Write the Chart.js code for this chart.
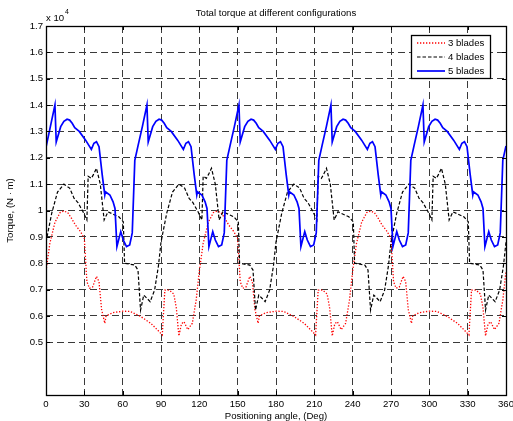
<!DOCTYPE html>
<html>
<head>
<meta charset="utf-8">
<title>Total torque at different configurations</title>
<script src="https://cdn.jsdelivr.net/npm/chart.js@4.4.1/dist/chart.umd.min.js"></script>
<style>
  html, body { margin: 0; padding: 0; background: #fff; }
  canvas { display: block; }
</style>
</head>
<body>
<canvas id="torqueChart" width="513" height="421"></canvas>
<script>
// Torque values are in units of 10^4 N.m
const blade3Angle = [
  0, 3, 7, 11, 14, 17, 20, 23, 27, 30, 32, 34, 36.5, 39.5, 41.5, 43.5, 46, 47, 52, 60, 66, 74, 82, 87, 91, 93, 96.5, 100, 102, 104, 106, 108, 111, 114.5, 117.5,
  120, 123, 127, 131, 134, 137, 140, 143, 147, 150, 152, 154, 156.5, 159.5, 161.5, 163.5, 166, 167, 172, 180, 186, 194, 202, 207, 211, 213, 216.5, 220, 222, 224, 226, 228, 231, 234.5, 237.5,
  240, 243, 247, 251, 254, 257, 260, 263, 267, 270, 272, 274, 276.5, 279.5, 281.5, 283.5, 286, 287, 292, 300, 306, 314, 322, 327, 331, 333, 336.5, 340, 342, 344, 346, 348, 351, 354.5, 357.5,
  360
];
const blade3Torque = [
  0.77, 0.875, 0.955, 0.992, 0.998, 0.992, 0.97, 0.945, 0.92, 0.894, 0.73, 0.705, 0.71, 0.75, 0.73, 0.625, 0.572, 0.60, 0.612, 0.618, 0.617, 0.598, 0.572, 0.548, 0.528, 0.698, 0.698, 0.683, 0.63, 0.524, 0.57, 0.578, 0.548, 0.572, 0.66,
  0.77, 0.875, 0.955, 0.992, 0.998, 0.992, 0.97, 0.945, 0.92, 0.894, 0.73, 0.705, 0.71, 0.75, 0.73, 0.625, 0.572, 0.60, 0.612, 0.618, 0.617, 0.598, 0.572, 0.548, 0.528, 0.698, 0.698, 0.683, 0.63, 0.524, 0.57, 0.578, 0.548, 0.572, 0.66,
  0.77, 0.875, 0.955, 0.992, 0.998, 0.992, 0.97, 0.945, 0.92, 0.894, 0.73, 0.705, 0.71, 0.75, 0.73, 0.625, 0.572, 0.60, 0.612, 0.618, 0.617, 0.598, 0.572, 0.548, 0.528, 0.698, 0.698, 0.683, 0.63, 0.524, 0.57, 0.578, 0.548, 0.572, 0.66,
  0.77
];

const blade4Angle = [
  0, 4.5, 9, 14, 18.5, 22, 25, 29, 32, 33, 35.5, 37, 39.5, 42.5, 45.5, 48.5, 53, 57, 60.5, 61.5, 69.5, 72, 74, 76.5, 79, 81.5, 85, 88,
  90, 94.5, 99, 104, 108.5, 112, 115, 119, 122, 123, 125.5, 127, 129.5, 132.5, 135.5, 138.5, 143, 147, 150.5, 151.5, 159.5, 162, 164, 166.5, 169, 171.5, 175, 178,
  180, 184.5, 189, 194, 198.5, 202, 205, 209, 212, 213, 215.5, 217, 219.5, 222.5, 225.5, 228.5, 233, 237, 240.5, 241.5, 249.5, 252, 254, 256.5, 259, 261.5, 265, 268,
  270, 274.5, 279, 284, 288.5, 292, 295, 299, 302, 303, 305.5, 307, 309.5, 312.5, 315.5, 318.5, 323, 327, 330.5, 331.5, 339.5, 342, 344, 346.5, 349, 351.5, 355, 358,
  360
];
const blade4Torque = [
  0.88, 0.99, 1.07, 1.10, 1.085, 1.046, 1.03, 0.995, 0.964, 1.13, 1.122, 1.135, 1.16, 1.10, 0.964, 0.995, 0.985, 0.976, 0.957, 0.80, 0.793, 0.774, 0.622, 0.679, 0.667, 0.654, 0.698, 0.79,
  0.88, 0.99, 1.07, 1.10, 1.085, 1.046, 1.03, 0.995, 0.964, 1.13, 1.122, 1.135, 1.16, 1.10, 0.964, 0.995, 0.985, 0.976, 0.957, 0.80, 0.793, 0.774, 0.622, 0.679, 0.667, 0.654, 0.698, 0.79,
  0.88, 0.99, 1.07, 1.10, 1.085, 1.046, 1.03, 0.995, 0.964, 1.13, 1.122, 1.135, 1.16, 1.10, 0.964, 0.995, 0.985, 0.976, 0.957, 0.80, 0.793, 0.774, 0.622, 0.679, 0.667, 0.654, 0.698, 0.79,
  0.88, 0.99, 1.07, 1.10, 1.085, 1.046, 1.03, 0.995, 0.964, 1.13, 1.122, 1.135, 1.16, 1.10, 0.964, 0.995, 0.985, 0.976, 0.957, 0.80, 0.793, 0.774, 0.622, 0.679, 0.667, 0.654, 0.698, 0.79,
  0.88
];

const blade5Angle = [
  0, 3.5, 7, 8, 11.5, 14, 16.5, 18.5, 20.5, 22.5, 26, 31, 35.5, 37.5, 39.5, 41.5, 44, 46, 46.5, 50, 52.5, 54, 55.5, 58.5, 60.5, 63, 65.5, 67.5, 69.5,
  72, 75.5, 79, 80, 83.5, 86, 88.5, 90.5, 92.5, 94.5, 98, 103, 107.5, 109.5, 111.5, 113.5, 116, 118, 118.5, 122, 124.5, 126, 127.5, 130.5, 132.5, 135, 137.5, 139.5, 141.5,
  144, 147.5, 151, 152, 155.5, 158, 160.5, 162.5, 164.5, 166.5, 170, 175, 179.5, 181.5, 183.5, 185.5, 188, 190, 190.5, 194, 196.5, 198, 199.5, 202.5, 204.5, 207, 209.5, 211.5, 213.5,
  216, 219.5, 223, 224, 227.5, 230, 232.5, 234.5, 236.5, 238.5, 242, 247, 251.5, 253.5, 255.5, 257.5, 260, 262, 262.5, 266, 268.5, 270, 271.5, 274.5, 276.5, 279, 281.5, 283.5, 285.5,
  288, 291.5, 295, 296, 299.5, 302, 304.5, 306.5, 308.5, 310.5, 314, 319, 323.5, 325.5, 327.5, 329.5, 332, 334, 334.5, 338, 340.5, 342, 343.5, 346.5, 348.5, 351, 353.5, 355.5, 357.5,
  360
];
const blade5Torque = [
  1.24, 1.32, 1.40, 1.26, 1.318, 1.338, 1.346, 1.343, 1.331, 1.314, 1.30, 1.267, 1.232, 1.255, 1.261, 1.242, 1.135, 1.059, 1.071, 1.059, 1.033, 1.008, 0.863, 0.92, 0.888, 0.863, 0.869, 0.915, 1.19,
  1.245, 1.32, 1.40, 1.26, 1.318, 1.338, 1.346, 1.343, 1.331, 1.314, 1.30, 1.267, 1.232, 1.255, 1.261, 1.242, 1.135, 1.059, 1.071, 1.059, 1.033, 1.008, 0.863, 0.92, 0.888, 0.863, 0.869, 0.915, 1.19,
  1.245, 1.32, 1.40, 1.26, 1.318, 1.338, 1.346, 1.343, 1.331, 1.314, 1.30, 1.267, 1.232, 1.255, 1.261, 1.242, 1.135, 1.059, 1.071, 1.059, 1.033, 1.008, 0.863, 0.92, 0.888, 0.863, 0.869, 0.915, 1.19,
  1.245, 1.32, 1.40, 1.26, 1.318, 1.338, 1.346, 1.343, 1.331, 1.314, 1.30, 1.267, 1.232, 1.255, 1.261, 1.242, 1.135, 1.059, 1.071, 1.059, 1.033, 1.008, 0.863, 0.92, 0.888, 0.863, 0.869, 0.915, 1.19,
  1.245, 1.32, 1.40, 1.26, 1.318, 1.338, 1.346, 1.343, 1.331, 1.314, 1.30, 1.267, 1.232, 1.255, 1.261, 1.242, 1.135, 1.059, 1.071, 1.059, 1.033, 1.008, 0.863, 0.92, 0.888, 0.863, 0.869, 0.915, 1.19,
  1.245
];

const seriesLabels = ['3 blades', '4 blades', '5 blades'];
const titleText = 'Total torque at different configurations';
const xAxisTitle = 'Positioning angle, (Deg)';
const yAxisTitle = 'Torque, (N \u00b7 m)';

const FONT = '"Liberation Sans", Arial, sans-serif';
const FONT_SIZE = 9.6;

function toPoints(xs, ys) {
    return xs.map((x, i) => ({ x: x, y: ys[i] }));
}

const seriesStyles = [
    { color: '#ff0000', width: 1.3, dash: [1.3, 1.7] },
    { color: '#000000', width: 1.2, dash: [3.5, 2] },
    { color: '#0000ff', width: 1.7, dash: [] }
];

// frame, inward ticks, legend and text labels (MATLAB look)
const matlabDecor = {
    id: 'matlabDecor',
    afterDatasetsDraw(chart) {
        const ctx = chart.ctx;
        const area = chart.chartArea;
        const xs = chart.scales.x;
        const ys = chart.scales.y;
        ctx.save();

        // inward tick marks
        ctx.strokeStyle = '#000';
        ctx.lineWidth = 1;
        ctx.setLineDash([]);
        ctx.beginPath();
        xs.ticks.forEach(t => {
            const px = Math.round(xs.getPixelForValue(t.value)) + 0.5;
            ctx.moveTo(px, area.bottom); ctx.lineTo(px, area.bottom - 4);
            ctx.moveTo(px, area.top); ctx.lineTo(px, area.top + 4);
        });
        ys.ticks.forEach(t => {
            const py = Math.round(ys.getPixelForValue(t.value)) + 0.5;
            ctx.moveTo(area.left, py); ctx.lineTo(area.left + 4, py);
            ctx.moveTo(area.right, py); ctx.lineTo(area.right - 4, py);
        });
        ctx.stroke();

        // axes box
        ctx.lineWidth = 1.3;
        ctx.strokeRect(Math.round(area.left) + 0.5, Math.round(area.top) + 0.5,
            Math.round(area.right - area.left), Math.round(area.bottom - area.top));

        // legend
        const lx = 411, ly = 35, lw = 79, lh = 43;
        ctx.fillStyle = '#fff';
        ctx.fillRect(lx, ly, lw, lh);
        ctx.strokeStyle = '#000';
        ctx.lineWidth = 1.3;
        ctx.strokeRect(lx + 0.5, ly + 0.5, lw, lh);
        ctx.font = FONT_SIZE + 'px ' + FONT;
        ctx.textAlign = 'left';
        ctx.textBaseline = 'middle';
        seriesLabels.forEach((label, i) => {
            const rowY = ly + 8 + i * 14;
            const st = seriesStyles[i];
            ctx.strokeStyle = st.color;
            ctx.lineWidth = st.width;
            ctx.setLineDash(st.dash);
            ctx.beginPath();
            ctx.moveTo(417, rowY);
            ctx.lineTo(445, rowY);
            ctx.stroke();
            ctx.setLineDash([]);
            ctx.fillStyle = '#000';
            ctx.fillText(label, 448, rowY + 0.5);
        });

        // title
        ctx.fillStyle = '#000';
        ctx.textAlign = 'center';
        ctx.textBaseline = 'middle';
        ctx.fillText(titleText, (area.left + area.right) / 2, 13);

        // exponent label
        ctx.textAlign = 'left';
        ctx.fillText('x 10', area.left, 18);
        ctx.font = '7px ' + FONT;
        ctx.fillText('4', area.left + 19, 12);

        // axis titles
        ctx.font = FONT_SIZE + 'px ' + FONT;
        ctx.textAlign = 'center';
        ctx.fillText(xAxisTitle, (area.left + area.right) / 2, 416);
        ctx.translate(10, (area.top + area.bottom) / 2);
        ctx.rotate(-Math.PI / 2);
        ctx.fillText(yAxisTitle, 0, 0);

        ctx.restore();
    }
};

function createTorqueChart() {
    const ctx = document.getElementById('torqueChart');
    if (!ctx) return;

    Chart.defaults.font.family = FONT;
    Chart.defaults.font.size = FONT_SIZE;
    Chart.defaults.color = '#000';

    const seriesData = [
        toPoints(blade3Angle, blade3Torque),
        toPoints(blade4Angle, blade4Torque),
        toPoints(blade5Angle, blade5Torque)
    ];

    new Chart(ctx, {
        type: 'line',
        data: {
            datasets: seriesLabels.map((label, i) => ({
                label: label,
                data: seriesData[i],
                borderColor: seriesStyles[i].color,
                borderWidth: seriesStyles[i].width,
                borderDash: seriesStyles[i].dash,
                pointRadius: 0,
                tension: 0,
                fill: false,
                order: 3 - i
            }))
        },
        options: {
            responsive: false,
            animation: false,
            devicePixelRatio: 1,
            layout: {
                padding: { top: 26, right: 7, bottom: 0, left: 0 }
            },
            plugins: {
                legend: { display: false },
                title: { display: false },
                tooltip: { enabled: false }
            },
            scales: {
                x: {
                    type: 'linear',
                    min: 0,
                    max: 360,
                    ticks: { stepSize: 30, padding: 4, maxRotation: 0, autoSkip: false },
                    grid: { color: '#3a3a3a', lineWidth: 1, drawTicks: false },
                    border: { display: false, dash: [7, 4] },
                    afterFit(scale) {
                        scale.height = 26;
                        scale.paddingLeft = 0;
                        scale.paddingRight = 0;
                    }
                },
                y: {
                    type: 'linear',
                    min: 0.3,
                    max: 1.7,
                    ticks: {
                        stepSize: 0.1,
                        padding: 3,
                        callback: v => String(Math.round(v * 10) / 10)
                    },
                    grid: { color: '#3a3a3a', lineWidth: 1, drawTicks: false },
                    border: { display: false, dash: [7, 4] },
                    afterBuildTicks(scale) {
                        scale.ticks = scale.ticks.filter(t => t.value > 0.45);
                    },
                    afterFit(scale) {
                        scale.width = 46;
                        scale.paddingTop = 0;
                        scale.paddingBottom = 0;
                    }
                }
            }
        },
        plugins: [matlabDecor]
    });
}

document.addEventListener('DOMContentLoaded', createTorqueChart);
</script>
</body>
</html>
